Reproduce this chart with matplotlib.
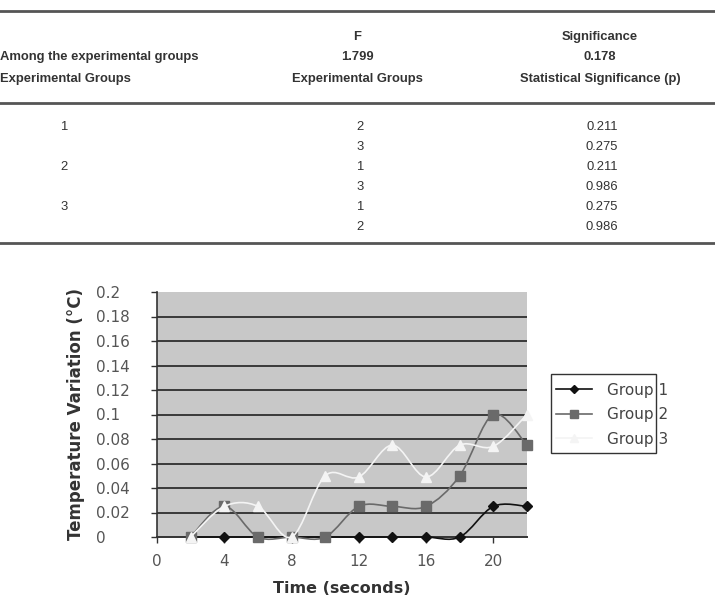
import matplotlib
matplotlib.use("Agg")
import matplotlib.pyplot as plt
from matplotlib.path import Path
from matplotlib.patches import PathPatch, Rectangle
from matplotlib.lines import Line2D
import numpy as np

# ---------------- data ----------------
time_s = [2, 4, 6, 8, 10, 12, 14, 16, 18, 20, 22]
group1 = [0, 0, 0, 0, 0, 0, 0, 0, 0, 0.025, 0.025]
group2 = [0, 0.025, 0, 0, 0, 0.025, 0.025, 0.025, 0.05, 0.1, 0.075]
group3 = [0, 0.025, 0.025, 0, 0.05, 0.049, 0.075, 0.049, 0.075, 0.074, 0.1]
series_names = ["Group 1", "Group 2", "Group 3"]

x_ticks = [0, 4, 8, 12, 16, 20]
y_ticks = [0, 0.02, 0.04, 0.06, 0.08, 0.1, 0.12, 0.14, 0.16, 0.18, 0.2]
y_tick_labels = ["0", "0.02", "0.04", "0.06", "0.08", "0.1", "0.12", "0.14", "0.16", "0.18", "0.2"]

table_header = [
    ["", "F", "Significance"],
    ["Among the experimental groups", "1.799", "0.178"],
    ["Experimental Groups", "Experimental Groups", "Statistical Significance (p)"],
]
table_rows = [
    ["1", "2", "0.211"],
    ["", "3", "0.275"],
    ["2", "1", "0.211"],
    ["", "3", "0.986"],
    ["3", "1", "0.275"],
    ["", "2", "0.986"],
]

W, H = 715, 608
fig = plt.figure(figsize=(W / 100, H / 100), dpi=100)

def fx(px):
    return px / W

def fy(py):
    return 1 - py / H

# ---------------- table ----------------
tcolor = "#333333"
tfont = "Liberation Sans"
tsize = 9.4
for yy in (11, 103, 243):
    fig.add_artist(Line2D([0, 1], [fy(yy), fy(yy)], color="#555555", lw=2.0,
                          transform=fig.transFigure))

header_y = [37, 57, 79]
for r, row in enumerate(table_header):
    y = fy(header_y[r])
    if row[0]:
        fig.text(fx(0), y, row[0], ha="left", va="center", fontsize=tsize,
                 fontweight="bold", color=tcolor, family=tfont)
    fig.text(fx(357), y, row[1], ha="center", va="center", fontsize=tsize,
             fontweight="bold", color=tcolor, family=tfont)
    fig.text(fx(600), y, row[2], ha="center", va="center", fontsize=tsize,
             fontweight="bold", color=tcolor, family=tfont)

body_y = [127, 147, 167, 187, 207, 227]
for r, row in enumerate(table_rows):
    y = fy(body_y[r])
    if row[0]:
        fig.text(fx(64), y, row[0], ha="center", va="center", fontsize=tsize,
                 color=tcolor, family=tfont)
    fig.text(fx(360), y, row[1], ha="center", va="center", fontsize=tsize,
             color=tcolor, family=tfont)
    fig.text(fx(602), y, row[2], ha="center", va="center", fontsize=tsize,
             color=tcolor, family=tfont)

# ---------------- chart ----------------
ax_l, ax_r, ax_t, ax_b = 157, 527, 292, 537
ax = fig.add_axes([fx(ax_l), fy(ax_b), (ax_r - ax_l) / W, (ax_b - ax_t) / H])
ax.set_facecolor("#c8c8c8")
ax.set_xlim(0, 22)
ax.set_ylim(0, 0.2)

for yv in y_ticks[1:-1]:
    ax.axhline(yv, color="#3a3a3a", lw=1.4, zorder=1)

for s in ("top", "right"):
    ax.spines[s].set_visible(False)
ax.spines["left"].set_color("#333333")
ax.spines["bottom"].set_color("#333333")
ax.spines["left"].set_linewidth(1.2)
ax.spines["bottom"].set_linewidth(1.4)

ax.set_xticks(x_ticks)
ax.set_xticklabels([str(v) for v in x_ticks])
ax.set_yticks(y_ticks)
ax.set_yticklabels(y_tick_labels)
for lab in ax.get_yticklabels():
    lab.set_horizontalalignment("left")
ax.tick_params(axis="y", length=4, width=1, color="#333333", pad=40,
               labelsize=11, labelcolor="#555555")
ax.tick_params(axis="x", length=4, width=1, color="#333333", pad=8,
               labelsize=11, labelcolor="#555555")

ax.set_ylabel("Temperature Variation (°C)", fontsize=12, fontweight="bold",
              color="#333333", labelpad=8)
ax.set_xlabel("Time (seconds)", fontsize=11.5, fontweight="bold",
              color="#333333", labelpad=9)


def smooth_path(xs, ys):
    pts = np.column_stack([xs, ys]).astype(float)
    n = len(pts)
    verts = [pts[0]]
    codes = [Path.MOVETO]
    for i in range(n - 1):
        p0 = pts[i - 1] if i > 0 else pts[i]
        p1 = pts[i]
        p2 = pts[i + 1]
        p3 = pts[i + 2] if i + 2 < n else pts[i + 1]
        c1 = p1 + (p2 - p0) / 6.0
        c2 = p2 - (p3 - p1) / 6.0
        verts += [c1, c2, p2]
        codes += [Path.CURVE4] * 3
    return Path(verts, codes)


styles = [
    dict(color="#111111", marker="D", ms=5, mfc="#111111", mec="#111111"),
    dict(color="#6a6a6a", marker="s", ms=7, mfc="#6a6a6a", mec="#6a6a6a"),
    dict(color="#f4f4f4", marker="^", ms=7, mfc="#f4f4f4", mec="#f4f4f4"),
]
handles = []
for k, (ys, st) in enumerate(zip([group1, group2, group3], styles)):
    patch = PathPatch(smooth_path(time_s, ys), fill=False, edgecolor=st["color"],
                      lw=1.2, transform=ax.transData, zorder=3 + k, clip_on=False)
    ax.add_patch(patch)
    ax.plot(time_s, ys, linestyle="none", marker=st["marker"], ms=st["ms"],
            mfc=st["mfc"], mec=st["mec"], zorder=3.5 + k, clip_on=False)
    handles.append(Line2D([], [], color=st["color"], lw=1.2, marker=st["marker"],
                          ms=st["ms"] - 1, mfc=st["mfc"], mec=st["mec"]))

# legend box (text slightly overflows the frame, as in the reference)
fig.add_artist(Rectangle((fx(551), fy(453)), fx(656) - fx(551), fy(374) - fy(453),
                         transform=fig.transFigure, fill=False,
                         edgecolor="#333333", lw=1.0))
leg = fig.legend(handles, series_names, loc="upper left",
                 bbox_to_anchor=(fx(551), fy(378)), frameon=False,
                 fontsize=11, handlelength=2.4, handletextpad=0.95,
                 labelspacing=0.62, borderpad=0.0, borderaxespad=0.3,
                 labelcolor="#444444")

fig.savefig("out.png", dpi=100)
